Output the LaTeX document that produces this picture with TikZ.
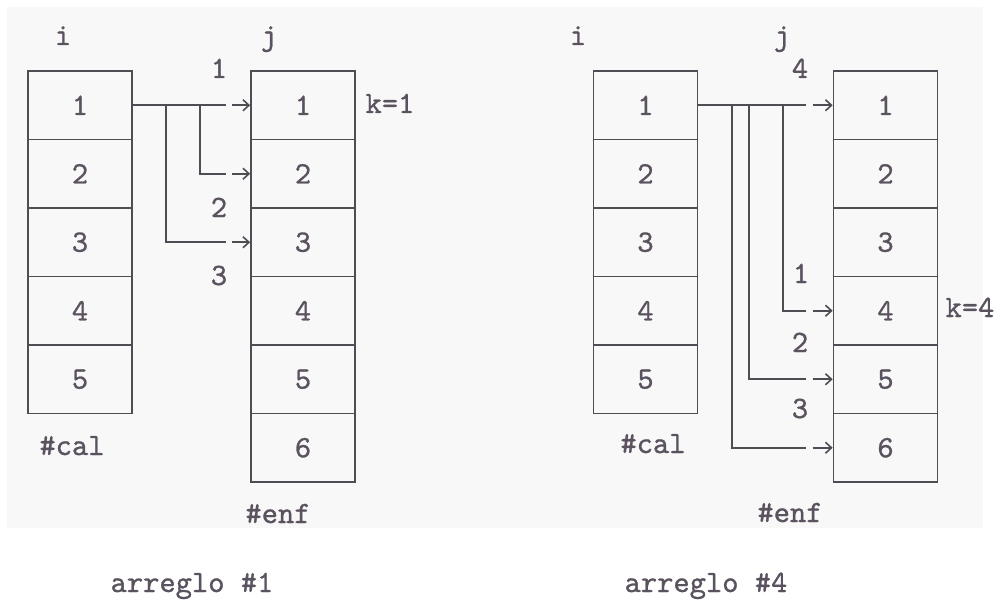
\documentclass[tikz,border=0pt]{standalone}
\usepackage{fontspec}
\newfontfamily\tw[FakeBold=0.9]{lmmono10-regular.otf}
\usetikzlibrary{arrows.meta}
\definecolor{ink}{RGB}{90,82,94}
\definecolor{linec}{RGB}{80,76,84}
\definecolor{bgc}{RGB}{248,248,248}
\begin{document}
\begin{tikzpicture}[x=1pt,y=-1pt,
  cell/.style={draw=linec,line width=1.7pt,minimum width=104pt,minimum height=68.5pt,inner sep=0pt,text=ink,font=\tw\fontsize{31}{36}\selectfont},
  lbl/.style={anchor=base,inner sep=0pt,text=ink,font=\tw\fontsize{31}{36}\selectfont},
  wire/.style={draw=linec,line width=1.6pt},
  tip/.style={draw=linec,line width=1.6pt,-{Straight Barb[length=6pt,width=11pt]}}]
\useasboundingbox (0,0) rectangle (1000,599);
\fill[bgc] (7,7) rectangle (983,528);
% ---- arreglo #1
\foreach \k/\y in {1/105.25,2/173.75,3/242.25,4/310.75,5/379.25}
  \node[cell] (L\k) at (80,\y) {\k};
\foreach \k/\y in {1/105.25,2/173.75,3/242.25,4/310.75,5/379.25,6/447.75}
  \node[cell] (R\k) at (303,\y) {\k};
\node[lbl] (li) at (63,45) {i};
\node[lbl] (lj) at (269,45) {j};
\node[lbl] (l1) at (219,78) {1};
\node[lbl] (l2) at (219,217) {2};
\node[lbl] (l3) at (219,285) {3};
\node[lbl] (lk) at (390,113) {k=1};
\node[lbl] (lcal) at (72,455) {\#cal};
\node[lbl] (lenf) at (278,523) {\#enf};
\node[lbl] (larr) at (192,592) {arreglo \#1};
\coordinate (a2) at (200,105.25);
\coordinate (a3) at (166,105.25);
\draw[wire] (L1.east) -- ([xshift=-24pt]R1.west);
\draw[wire] (a2) |- ([xshift=-24pt]R2.west);
\draw[wire] (a3) |- ([xshift=-24pt]R3.west);
\foreach \k in {1,2,3}
  \draw[tip] ([xshift=-18pt]R\k.west) -- (R\k.west);
% ---- arreglo #4
\foreach \k/\y in {1/105.25,2/173.75,3/242.25,4/310.75,5/379.25}
  \node[cell] (M\k) at (645.5,\y) {\k};
\foreach \k/\y in {1/105.25,2/173.75,3/242.25,4/310.75,5/379.25,6/447.75}
  \node[cell] (N\k) at (885.5,\y) {\k};
\node[lbl] (ri) at (578,45) {i};
\node[lbl] (rj) at (782,45) {j};
\node[lbl] (r4) at (800,78) {4};
\node[lbl] (r1) at (801,283) {1};
\node[lbl] (r2) at (800,352) {2};
\node[lbl] (r3) at (800,418) {3};
\node[lbl] (rk) at (970,317) {k=4};
\node[lbl] (rcal) at (653,453) {\#cal};
\node[lbl] (renf) at (790,522) {\#enf};
\node[lbl] (rarr) at (706,592) {arreglo \#4};
\coordinate (b4) at (783,105.25);
\coordinate (b5) at (749,105.25);
\coordinate (b6) at (732,105.25);
\draw[wire] (M1.east) -- ([xshift=-27pt]N1.west);
\draw[wire] (b4) |- ([xshift=-27pt]N4.west);
\draw[wire] (b5) |- ([xshift=-27pt]N5.west);
\draw[wire] (b6) |- ([xshift=-27pt]N6.west);
\foreach \k in {1,4,5,6}
  \draw[tip] ([xshift=-20pt]N\k.west) -- (N\k.west);
\end{tikzpicture}
\end{document}
